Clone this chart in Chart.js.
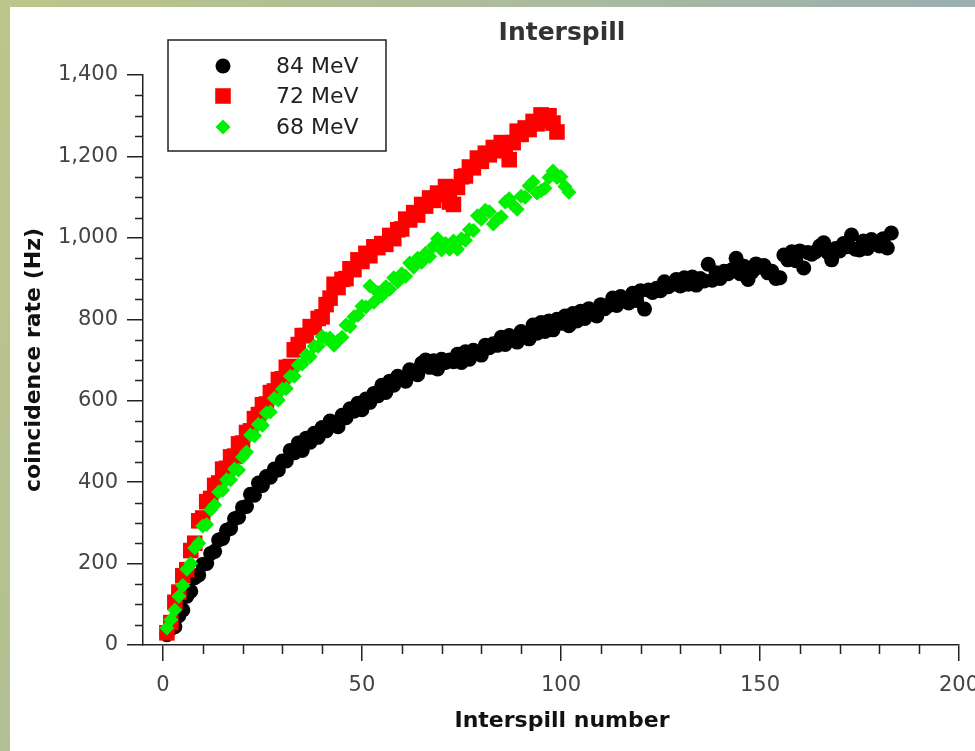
<!DOCTYPE html>
<html>
<head>
<meta charset="utf-8">
<title>Interspill</title>
<script src="https://cdn.jsdelivr.net/npm/chart.js@4.4.1/dist/chart.umd.min.js"></script>
<style>
  html, body { margin: 0; padding: 0; }
  body {
    width: 975px; height: 751px; overflow: hidden;
    background: linear-gradient(110deg, #bcc58a 0%, #aabb9e 45%, #8fa6bc 100%);
  }
  #frame { position: absolute; left: 10px; top: 7px; width: 965px; height: 744px; background: #fff; }
  canvas { display: block; }
</style>
</head>
<body>
<div id="frame"><canvas id="myChart" width="965" height="744"></canvas></div>
<script>
// ---------------- données ----------------
// numéro d'interspill = rang dans le tableau + 1
const seriesLabels = ['84 MeV', '72 MeV', '68 MeV'];

const rate84 = [
  25, 40, 45, 72, 86, 120, 132, 165, 172, 198,
  200, 225, 230, 258, 262, 282, 286, 310, 314, 338,
  340, 370, 368, 398, 392, 414, 412, 432, 430, 452,
  452, 478, 472, 496, 478, 508, 498, 520, 510, 534,
  526, 550, 540, 536, 564, 558, 580, 574, 594, 578,
  604, 596, 618, 612, 638, 620, 648, 638, 660, 652,
  648, 676, 668, 664, 692, 700, 682, 698, 678, 702,
  694, 700, 696, 714, 694, 720, 702, 724, 716, 712,
  736, 730, 740, 736, 756, 738, 760, 752, 744, 770,
  762, 752, 786, 766, 792, 770, 796, 774, 800, 790,
  808, 784, 814, 796, 820, 802, 826, 818, 808, 836,
  826, 834, 852, 834, 856, 846, 840, 864, 846, 870,
  825, 872, 866, 876, 870, 892, 880, 886, 898, 882,
  902, 886, 904, 884, 900, 894, 935, 896, 914, 900,
  918, 912, 922, 950, 912, 930, 898, 916, 936, 928,
  932, 914, 918, 900, 902, 958, 946, 966, 944, 968,
  926, 964, 960, 966, 980, 988, 964, 946, 974, 968,
  986, 978, 1007, 972, 970, 992, 974, 996, 988, 980,
  998, 975, 1012
];

const rate72 = [
  30, 55, 105, 130, 170, 185, 232, 250, 305, 312,
  352, 360, 392, 398, 432, 434, 462, 464, 494, 496,
  522, 526, 556, 566, 590, 592, 620, 624, 652, 654,
  682, 684, 725, 738, 760, 760, 782, 780, 802, 806,
  836, 852, 886, 878, 898, 900, 924, 922, 946, 942,
  962, 956, 978, 976, 986, 984, 1006, 998, 1020, 1022,
  1046, 1044, 1062, 1056, 1082, 1078, 1098, 1092, 1110, 1106,
  1126, 1088, 1082, 1124, 1150, 1152, 1174, 1172, 1196, 1188,
  1208, 1204, 1222, 1214, 1234, 1230, 1192, 1234, 1262, 1254,
  1270, 1266, 1286, 1280, 1302, 1288, 1300, 1282, 1260
];

const rate68 = [
  42, 62, 86, 120, 146, 186, 200, 238, 250, 292,
  296, 332, 344, 376, 380, 406, 406, 432, 430, 462,
  474, 516, 514, 542, 540, 570, 572, 606, 602, 628,
  630, 660, 660, 688, 690, 712, 708, 734, 734, 758,
  752, 754, 736, 748, 756, 786, 782, 806, 810, 832,
  830, 882, 842, 866, 858, 880, 874, 902, 892, 912,
  906, 938, 928, 950, 940, 962, 954, 980, 998, 970,
  986, 972, 992, 972, 998, 994, 1020, 1018, 1054, 1046,
  1068, 1064, 1034, 1046, 1052, 1088, 1096, 1080, 1070, 1102,
  1100, 1128, 1138, 1110, 1116, 1122, 1148, 1164, 1148, 1150,
  1126, 1112
];

const xTicks = [0, 50, 100, 150, 200];
const yTicks = [0, 200, 400, 600, 800, 1000, 1200, 1400];

// ---------------- réglages ----------------
const FONT = "'DejaVu Sans', 'Noto Sans', sans-serif";
const AXIS = '#222';

function toPoints(values) {
  return values.map((v, i) => ({ x: i + 1, y: v }));
}

// graduations secondaires, titres et légende encadrée
const decorPlugin = {
  id: 'decor',
  afterDraw(chart) {
    const { ctx, chartArea, scales } = chart;
    const xs = scales.x, ys = scales.y;
    ctx.save();

    // petites graduations
    ctx.strokeStyle = AXIS;
    ctx.lineWidth = 1.5;
    ctx.beginPath();
    for (let v = 10; v < 200; v += 10) {
      if (v % 50 === 0) continue;
      const px = Math.round(xs.getPixelForValue(v)) + 0.5;
      ctx.moveTo(px, chartArea.bottom);
      ctx.lineTo(px, chartArea.bottom + 9);
    }
    for (let v = 50; v < 1400; v += 50) {
      if (v % 200 === 0) continue;
      const py = Math.round(ys.getPixelForValue(v)) + 0.5;
      ctx.moveTo(chartArea.left, py);
      ctx.lineTo(chartArea.left - 8, py);
    }
    ctx.stroke();

    // titre et titre de l'axe x
    ctx.fillStyle = '#333';
    ctx.textAlign = 'center';
    ctx.textBaseline = 'middle';
    ctx.font = 'bold 25px ' + FONT;
    ctx.fillText('Interspill', 552, 26);
    ctx.fillStyle = '#111';
    ctx.font = 'bold 22px ' + FONT;
    ctx.fillText('Interspill number', 552, 714);

    // légende
    const box = { x: 158, y: 33, w: 218, h: 111 };
    ctx.fillStyle = '#fff';
    ctx.fillRect(box.x, box.y, box.w, box.h);
    ctx.strokeStyle = '#222';
    ctx.lineWidth = 1.5;
    ctx.strokeRect(box.x, box.y, box.w, box.h);

    const rows = [59, 89, 120];
    ctx.textAlign = 'left';
    ctx.font = '22px ' + FONT;
    chart.data.datasets.forEach((d, i) => {
      ctx.fillStyle = d.backgroundColor;
      Chart.helpers.drawPoint(ctx, { pointStyle: d.pointStyle, radius: d.pointRadius, rotation: 0, borderWidth: 0 }, 213, rows[i]);
      ctx.fillStyle = '#222';
      ctx.fillText(seriesLabels[i], 266, rows[i] + 1);
    });

    ctx.restore();
  }
};

const ctx = document.getElementById('myChart').getContext('2d');
const myChart = new Chart(ctx, {
  type: 'scatter',
  data: {
    datasets: [{
      label: seriesLabels[0],
      data: toPoints(rate84),
      pointStyle: 'circle',
      pointRadius: 7.5,
      backgroundColor: '#000000',
      borderWidth: 0,
      order: 3
    }, {
      label: seriesLabels[1],
      data: toPoints(rate72),
      pointStyle: 'rect',
      pointRadius: 11,
      backgroundColor: '#ff0000',
      borderWidth: 0,
      order: 2
    }, {
      label: seriesLabels[2],
      data: toPoints(rate68),
      pointStyle: 'rectRot',
      pointRadius: 7.5,
      backgroundColor: '#00f000',
      borderWidth: 0,
      order: 1
    }]
  },
  options: {
    responsive: false,
    animation: false,
    devicePixelRatio: 1,
    events: [],
    layout: { padding: { top: 68, right: 16, left: 0, bottom: 0 } },
    plugins: {
      legend: { display: false },
      title: { display: false },
      tooltip: { enabled: false }
    },
    scales: {
      x: {
        type: 'linear',
        min: -5,
        max: 200,
        afterFit: s => { s.height = 106; s.paddingRight = 0; s.paddingLeft = 0; },
        afterBuildTicks: s => { s.ticks = xTicks.map(v => ({ value: v })); },
        ticks: { color: '#444', font: { family: FONT, size: 21 }, padding: 12, maxRotation: 0, autoSkip: false },
        grid: { drawOnChartArea: false, drawTicks: true, tickLength: 16, color: AXIS, lineWidth: 1.5 },
        border: { display: true, color: AXIS, width: 1.5 }
      },
      y: {
        type: 'linear',
        min: 0,
        max: 1400,
        afterFit: s => { s.width = 133; },
        afterBuildTicks: s => { s.ticks = yTicks.map(v => ({ value: v })); },
        ticks: {
          color: '#444', font: { family: FONT, size: 21 }, padding: 9, autoSkip: false,
          callback: v => v.toLocaleString('en-US')
        },
        grid: { drawOnChartArea: false, drawTicks: true, tickLength: 16, color: AXIS, lineWidth: 1.5 },
        border: { display: true, color: AXIS, width: 1.5 },
        title: {
          display: true, text: 'coincidence rate (Hz)', color: '#111',
          font: { family: FONT, size: 22, weight: 'bold' }, padding: { top: 11, bottom: 0 }
        }
      }
    }
  },
  plugins: [decorPlugin]
});
</script>
</body>
</html>
